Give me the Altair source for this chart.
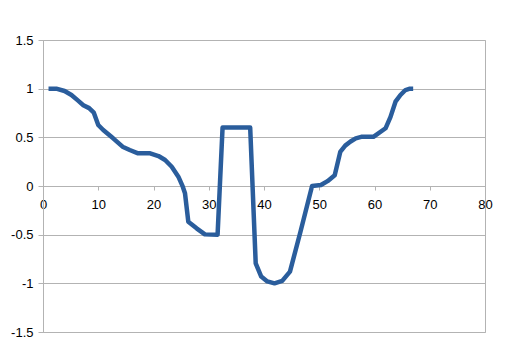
import altair as alt
import pandas as pd

xs = [1, 2.4, 3.9, 5.15, 6.35, 7.3, 8.35, 9.2, 10.0, 10.9, 12.7, 14.4, 15.7, 17.2, 19.4,
      20.9, 22.1, 23.3, 24.5, 25.3, 25.7, 26.3, 27.8, 29.3, 31.6, 32.5, 37.5, 38.5, 39.5,
      40.6, 41.9, 43.3, 44.7, 46.6, 48.7, 50.3, 51.5, 52.8, 53.8, 54.7, 55.6, 56.6, 57.6,
      59.8, 62.0, 62.9, 63.8, 64.7, 65.6, 66.4, 67.0]
ys = [1.0, 1.0, 0.976, 0.935, 0.877, 0.83, 0.80, 0.753, 0.627, 0.575, 0.49, 0.404, 0.37, 0.336, 0.336,
      0.308, 0.267, 0.198, 0.096, -0.007, -0.075, -0.367, -0.435, -0.497, -0.5, 0.6, 0.6, -0.795, -0.93,
      -0.98, -1.0, -0.975, -0.88, -0.47, 0.0, 0.01, 0.05, 0.11, 0.35, 0.415, 0.455, 0.49, 0.505,
      0.505, 0.593, 0.71, 0.866, 0.935, 0.986, 1.0, 1.0]

x_ticks = [0, 10, 20, 30, 40, 50, 60, 70, 80]
y_ticks = [-1.5, -1, -0.5, 0, 0.5, 1, 1.5]

df = pd.DataFrame({"x": xs, "y": ys, "order": list(range(len(xs)))})

W, H = 442, 292
grey = "#b3b3b3"
font = "Liberation Sans"

chart = alt.Chart(df).mark_line(
    color="#2a5d9c", strokeWidth=4.5, strokeJoin="round", strokeCap="butt"
).encode(
    x=alt.X("x:Q", scale=alt.Scale(domain=[0, 80], nice=False, zero=False),
            axis=alt.Axis(values=x_ticks, grid=False, offset=-H / 2, domainColor=grey,
                          tickColor=grey, tickSize=4, labelPadding=8, labelFontSize=13,
                          labelColor="black", labelFont=font, title=None,
                          labelFlush=False, labelOverlap=False)),
    y=alt.Y("y:Q", scale=alt.Scale(domain=[-1.5, 1.5], nice=False, zero=False),
            axis=alt.Axis(values=y_ticks, grid=True, gridColor=grey, domainColor=grey,
                          tickColor=grey, tickSize=5, labelPadding=5, labelFontSize=13,
                          labelColor="black", labelFont=font, title=None,
                          labelExpr="'' + datum.value", labelFlush=False,
                          labelOverlap=False)),
    order="order:Q",
).properties(
    width=W, height=H,
    autosize=alt.AutoSizeParams(type="none"),
    padding={"left": 43, "top": 40, "right": 22, "bottom": 30},
    background="white",
).configure_view(stroke=grey, strokeWidth=1)

chart.save("out.html", embed_options={"renderer": "svg", "actions": False})
